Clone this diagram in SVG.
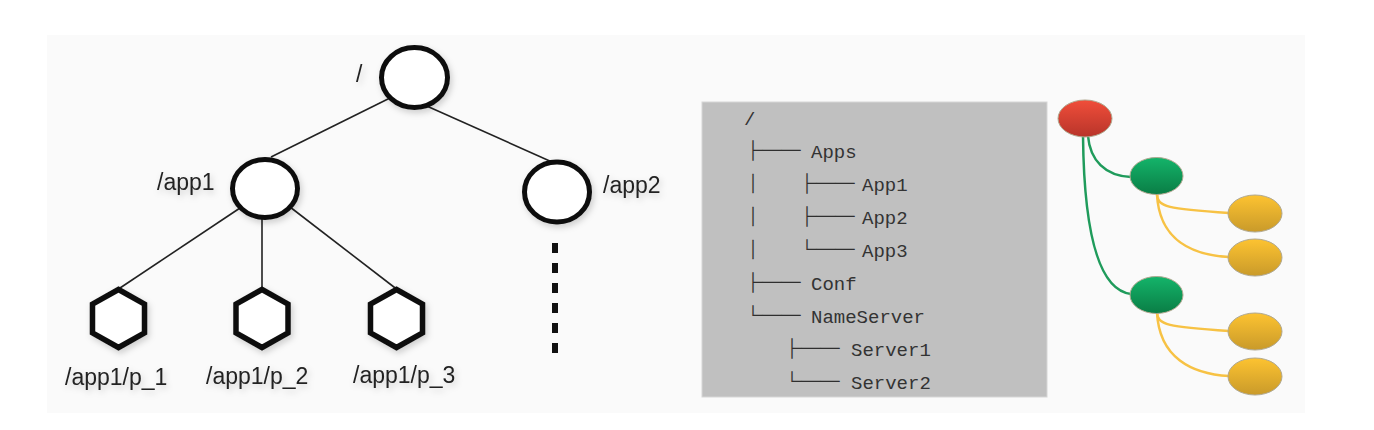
<svg xmlns="http://www.w3.org/2000/svg" width="1374" height="430" viewBox="0 0 1374 430">
  <defs>
    <style>
      .lbl { font-family: "Liberation Sans", Arial, sans-serif; font-size: 23px; fill: #222; }
      .circ { fill: #fff; stroke: #111; stroke-width: 5; }
      .hex { fill: #fff; stroke: #111; stroke-width: 5.5; stroke-linejoin: miter; }
      .edge { stroke: #222; stroke-width: 1.6; fill: none; }
      .mono { font-family: "Liberation Mono", "Courier New", monospace; font-size: 19px; fill: #333; }
      .box { font-family: "Noto Sans CJK SC", "Liberation Mono", monospace; font-size: 19px; font-weight: 700; fill: #2a2a2a; stroke: #2a2a2a; stroke-width: 0.4; }
      .gEdge { stroke: #1f9b5b; stroke-width: 2.5; fill: none; }
      .yEdge { stroke: #f7c244; stroke-width: 2.5; fill: none; }
      .outl { stroke: #b0a890; stroke-width: 1; }
    </style>
    <filter id="shadow" x="-30%" y="-30%" width="160%" height="160%">
      <feDropShadow dx="2" dy="3" stdDeviation="3" flood-color="#000" flood-opacity="0.18"/>
    </filter>
    <linearGradient id="gRed" x1="0" y1="0" x2="0" y2="1">
      <stop offset="0" stop-color="#f04e3a"/>
      <stop offset="1" stop-color="#b8342a"/>
    </linearGradient>
    <linearGradient id="gGreen" x1="0" y1="0" x2="0" y2="1">
      <stop offset="0" stop-color="#14b46a"/>
      <stop offset="1" stop-color="#0a7d45"/>
    </linearGradient>
    <linearGradient id="gYellow" x1="0" y1="0" x2="0" y2="1">
      <stop offset="0" stop-color="#fdc331"/>
      <stop offset="1" stop-color="#c99a2a"/>
    </linearGradient>
  </defs>

  <rect x="0" y="0" width="1374" height="430" fill="#ffffff"/>
  <rect x="47" y="35" width="1258" height="378" fill="#fafafa"/>

  <!-- connectors -->
  <g id="connectors">
    <line class="edge" x1="395" y1="95.5" x2="271" y2="157"/>
    <line class="edge" x1="420" y1="103" x2="552" y2="162"/>
    <line class="edge" x1="240" y1="208" x2="118.5" y2="289"/>
    <line class="edge" x1="262" y1="212" x2="262" y2="289"/>
    <line class="edge" x1="290" y1="207" x2="396.5" y2="289"/>
    <line x1="555" y1="243" x2="555" y2="355" stroke="#111" stroke-width="6" stroke-dasharray="10 10"/>
    <path class="gEdge" d="M1088,136 C1090,160 1105,176 1131,177"/>
    <path class="gEdge" d="M1083,136 C1084,230 1098,290 1131,294"/>
    <path class="yEdge" d="M1157,194 C1157,207 1168,209 1229,213"/>
    <path class="yEdge" d="M1157,194 C1159,240 1192,255 1229,257"/>
    <path class="yEdge" d="M1157,312 C1157,325 1168,327 1229,331"/>
    <path class="yEdge" d="M1157,312 C1159,358 1192,374 1229,376"/>
  </g>

  <!-- left tree nodes -->
  <g id="root" filter="url(#shadow)">
    <ellipse class="circ" cx="414.5" cy="77.5" rx="33" ry="30"/>
    <text class="lbl" x="356" y="82">/</text>
  </g>
  <g id="app1" filter="url(#shadow)">
    <ellipse class="circ" cx="265" cy="188.5" rx="32.5" ry="29"/>
    <text class="lbl" x="157" y="190">/app1</text>
  </g>
  <g id="app2" filter="url(#shadow)">
    <ellipse class="circ" cx="557" cy="192" rx="32.5" ry="30"/>
    <text class="lbl" x="603" y="193">/app2</text>
  </g>
  <g id="p1" filter="url(#shadow)">
    <polygon class="hex" points="118.5,289.5 144.5,304 144.5,333 118.5,347.5 92.5,333 92.5,304"/>
    <text class="lbl" x="65" y="385">/app1/p_1</text>
  </g>
  <g id="p2" filter="url(#shadow)">
    <polygon class="hex" points="262,289.5 288,304 288,333 262,347.5 236,333 236,304"/>
    <text class="lbl" x="206" y="384">/app1/p_2</text>
  </g>
  <g id="p3" filter="url(#shadow)">
    <polygon class="hex" points="396.5,289.5 422.5,304 422.5,333 396.5,347.5 370.5,333 370.5,304"/>
    <text class="lbl" x="353" y="383">/app1/p_3</text>
  </g>

  <!-- directory listing -->
  <g id="listing">
    <rect x="702" y="102" width="345" height="295" fill="#c0c0c0" stroke="#d6d6d6" stroke-width="1"/>
    <text class="mono" x="744" y="125">/</text>
    <text class="box" x="743.5" y="158">├──</text><text class="mono" x="811" y="158">Apps</text>
    <text class="box" x="743.5" y="191">│</text><text class="box" x="797.5" y="191">├──</text><text class="mono" x="862" y="191">App1</text>
    <text class="box" x="743.5" y="224">│</text><text class="box" x="797.5" y="224">├──</text><text class="mono" x="862" y="224">App2</text>
    <text class="box" x="743.5" y="257">│</text><text class="box" x="797.5" y="257">└──</text><text class="mono" x="862" y="257">App3</text>
    <text class="box" x="743.5" y="290">├──</text><text class="mono" x="811" y="290">Conf</text>
    <text class="box" x="743.5" y="323">└──</text><text class="mono" x="811" y="323">NameServer</text>
    <text class="box" x="782.5" y="356">├──</text><text class="mono" x="851" y="356">Server1</text>
    <text class="box" x="782.5" y="389">└──</text><text class="mono" x="851" y="389">Server2</text>
  </g>

  <!-- coloured tree -->
  <g id="red-root"><ellipse class="outl" cx="1085" cy="118.5" rx="27" ry="18.5" fill="url(#gRed)"/></g>
  <g id="green-1"><ellipse class="outl" cx="1156.5" cy="176" rx="26.5" ry="18.5" fill="url(#gGreen)"/></g>
  <g id="green-2"><ellipse class="outl" cx="1156.5" cy="295" rx="26.5" ry="18.5" fill="url(#gGreen)"/></g>
  <g id="yellow-1"><ellipse class="outl" cx="1255" cy="213.5" rx="27" ry="18.5" fill="url(#gYellow)"/></g>
  <g id="yellow-2"><ellipse class="outl" cx="1255" cy="257.5" rx="27" ry="18.5" fill="url(#gYellow)"/></g>
  <g id="yellow-3"><ellipse class="outl" cx="1255" cy="331.5" rx="27" ry="18.5" fill="url(#gYellow)"/></g>
  <g id="yellow-4"><ellipse class="outl" cx="1255" cy="376.5" rx="27" ry="18.5" fill="url(#gYellow)"/></g>
</svg>
